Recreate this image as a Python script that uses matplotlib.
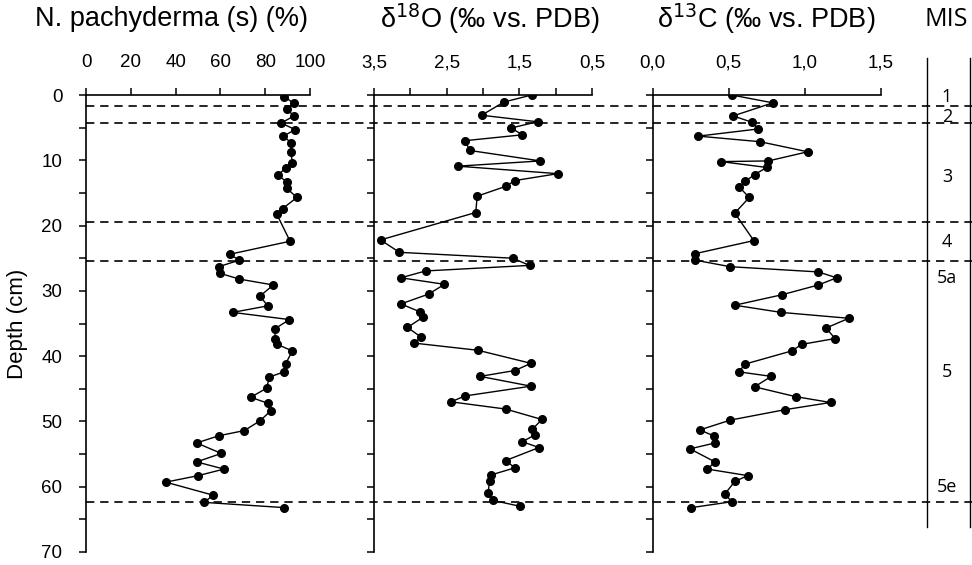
import matplotlib
matplotlib.use("Agg")
import matplotlib.pyplot as plt
from matplotlib.lines import Line2D
from matplotlib.ticker import FixedLocator, FuncFormatter

plt.rcParams['font.family'] = ['Liberation Sans Narrow', 'Liberation Sans', 'DejaVu Sans']

# N. pachyderma (s) (%) vs profundidad (cm)
np_depth = [0.25, 1.3, 2.2, 3.2, 4.3, 5.3, 6.3, 7.3, 8.7, 10.4, 11.2, 12.3, 13.3, 14.3,
            15.7, 17.4, 18.2, 22.4, 24.4, 25.3, 26.3, 27.3, 28.2, 29.1, 30.8, 32.3, 33.3,
            34.4, 35.8, 37.3, 38.2, 39.2, 41.2, 42.4, 43.2, 44.9, 46.3, 47.2, 48.4, 49.9,
            51.4, 52.2, 53.3, 54.9, 56.2, 57.3, 58.3, 59.3, 61.3, 62.4, 63.2]
np_val = [88.5, 92.9, 89.6, 92.9, 87.1, 93.4, 88.1, 91.5, 91.5, 92.1, 89.1, 85.6, 89.7, 89.7,
          94.1, 87.8, 85.1, 91.1, 64.1, 68.5, 59.2, 59.7, 68.5, 83.6, 77.7, 81.1, 65.5,
          90.8, 84.4, 84.4, 85.4, 92.1, 89.1, 88.5, 81.8, 80.7, 73.5, 81.1, 82.4, 77.7,
          70.7, 59.2, 49.4, 60.4, 49.4, 61.6, 50.1, 35.6, 56.8, 52.7, 88.5]

# d18O (permil vs PDB)
o18_depth = [0.0, 1.07, 3.1, 4.1, 5.05, 6.1, 7.0, 8.5, 10.1, 10.9, 12.05, 13.1, 14.0, 15.5,
             18.0, 22.2, 24.1, 25.0, 26.1, 26.95, 28.0, 29.0, 30.5, 32.0, 33.2, 34.0, 35.6,
             37.1, 38.0, 39.1, 41.1, 42.2, 43.1, 44.6, 46.1, 47.0, 48.1, 49.7, 51.2, 52.1,
             53.1, 54.0, 56.0, 57.1, 58.2, 59.1, 61.0, 62.1, 63.0]
o18_val = [1.33, 1.71, 2.02, 1.25, 1.61, 1.46, 2.25, 2.18, 1.21, 2.35, 0.97, 1.56, 1.69, 2.08,
           2.10, 3.41, 3.15, 1.59, 1.36, 2.79, 3.13, 2.53, 2.75, 3.13, 2.87, 2.82, 3.04,
           2.85, 2.95, 2.07, 1.34, 1.56, 2.04, 1.34, 2.25, 2.44, 1.69, 1.19, 1.32, 1.29,
           1.46, 1.23, 1.69, 1.56, 1.89, 1.91, 1.93, 1.86, 1.49]

# d13C (permil vs PDB)
c13_depth = [0.0, 1.2, 3.2, 4.2, 5.2, 6.3, 7.15, 8.7, 10.1, 10.2, 11.1, 12.2, 13.2, 14.1,
             15.7, 18.1, 22.3, 24.3, 25.3, 26.3, 27.1, 28.0, 29.1, 30.6, 32.2, 33.3, 34.2,
             35.7, 37.3, 38.2, 39.2, 41.2, 42.4, 43.1, 44.7, 46.2, 47.1, 48.2, 49.8, 51.3,
             52.2, 53.3, 54.2, 56.2, 57.3, 58.3, 59.2, 61.1, 62.3, 63.2]
c13_val = [0.52, 0.79, 0.53, 0.655, 0.695, 0.30, 0.705, 1.02, 0.76, 0.45, 0.75, 0.67, 0.61, 0.57,
           0.635, 0.54, 0.665, 0.28, 0.28, 0.51, 1.09, 1.21, 1.09, 0.85, 0.54, 0.845, 1.29,
           1.14, 1.20, 0.98, 0.915, 0.61, 0.565, 0.78, 0.67, 0.94, 1.17, 0.87, 0.51, 0.31,
           0.40, 0.41, 0.245, 0.41, 0.36, 0.625, 0.54, 0.475, 0.52, 0.255]

# Limites de los estadios isotopicos marinos (MIS)
mis_bounds = [1.7, 4.3, 19.4, 25.5, 62.4]
mis_labels = ["1", "2", "3", "4", "5a", "5", "5e"]
mis_label_depth = [0.3, 3.4, 12.6, 22.5, 28.0, 42.4, 60.0]

fig = plt.figure(figsize=(9.72, 5.65), dpi=100)

def px(x):
    return x / 972.0

bottom = 1 - 552 / 565.0
height = (552 - 95) / 565.0

ax1 = fig.add_axes([px(86), bottom, px(224), height])
ax2 = fig.add_axes([px(374), bottom, px(218), height])
ax3 = fig.add_axes([px(652.7), bottom, px(228), height])

comma = FuncFormatter(lambda v, p: ("%.1f" % v).replace(".", ","))

for ax in (ax1, ax2, ax3):
    ax.set_ylim(70, 0)
    ax.spines['right'].set_visible(False)
    ax.spines['bottom'].set_visible(False)
    ax.spines['top'].set_linewidth(1.2)
    ax.spines['left'].set_linewidth(1.2)
    ax.xaxis.tick_top()
    ax.tick_params(axis='x', direction='out', length=5, width=1.1, pad=12, labelsize=13.5)
    ax.tick_params(axis='y', direction='out', length=5, width=1.1, pad=12, labelsize=13.5)
    ax.yaxis.set_major_locator(FixedLocator(range(0, 75, 5)))
    ax.patch.set_alpha(0)

ax1.plot(np_val, np_depth, color='black', lw=1, marker='o', ms=5.5)
ax1.set_xlim(0, 100)
ax1.set_xticks([0, 20, 40, 60, 80, 100])
ax1.yaxis.set_major_formatter(FuncFormatter(lambda v, p: "%d" % v if v % 10 == 0 else ""))
ax1.set_ylabel("Depth (cm)", fontsize=16, family=['Liberation Sans', 'DejaVu Sans'], labelpad=10)

ax2.plot(o18_val, o18_depth, color='black', lw=1, marker='o', ms=5.5)
ax2.set_xlim(3.5, 0.5)
ax2.xaxis.set_major_locator(FixedLocator([3.5, 3.0, 2.5, 2.0, 1.5, 1.0, 0.5]))
ax2.xaxis.set_major_formatter(FuncFormatter(
    lambda v, p: ("%.1f" % v).replace(".", ",") if round(v * 2) % 2 == 1 else ""))
ax2.set_yticklabels([])

ax3.plot(c13_val, c13_depth, color='black', lw=1, marker='o', ms=5.5)
ax3.set_xlim(0, 1.5)
ax3.set_xticks([0, 0.5, 1.0, 1.5])
ax3.xaxis.set_major_formatter(comma)
ax3.set_yticklabels([])

# capa superpuesta para las lineas discontinuas y la columna MIS
ov = fig.add_axes([px(86), bottom, px(972 - 86), height])
ov.set_xlim(86, 972)
ov.set_ylim(70, 0)
ov.axis('off')
for d in mis_bounds:
    ov.plot([86, 972], [d, d], color='black', lw=1.2, ls=(0, (5, 3.5)))
for lab, d in zip(mis_labels, mis_label_depth):
    ov.text(947, d, lab, ha='center', va='center', fontsize=13,
            family=['Open Sans', 'DejaVu Sans'])

fig.add_artist(Line2D([px(927), px(927)], [1 - 58 / 565.0, 1 - 527 / 565.0],
                      color='black', lw=1))
fig.add_artist(Line2D([px(969.5), px(969.5)], [1 - 58 / 565.0, 1 - 527 / 565.0],
                      color='black', lw=1))

ty = 1 - 19 / 565.0
fig.text(px(171), ty, "N. pachyderma (s) (%)", ha='center', va='center', fontsize=19.5)
fig.text(px(490), ty, "δ$^{18}$O (‰ vs. PDB)", ha='center', va='center', fontsize=19.5)
fig.text(px(766), ty, "δ$^{13}$C (‰ vs. PDB)", ha='center', va='center', fontsize=19.5)
fig.text(px(946), ty, "MIS", ha='center', va='center', fontsize=18,
         family=['Open Sans', 'DejaVu Sans'])

fig.savefig("out.png", dpi=100)
